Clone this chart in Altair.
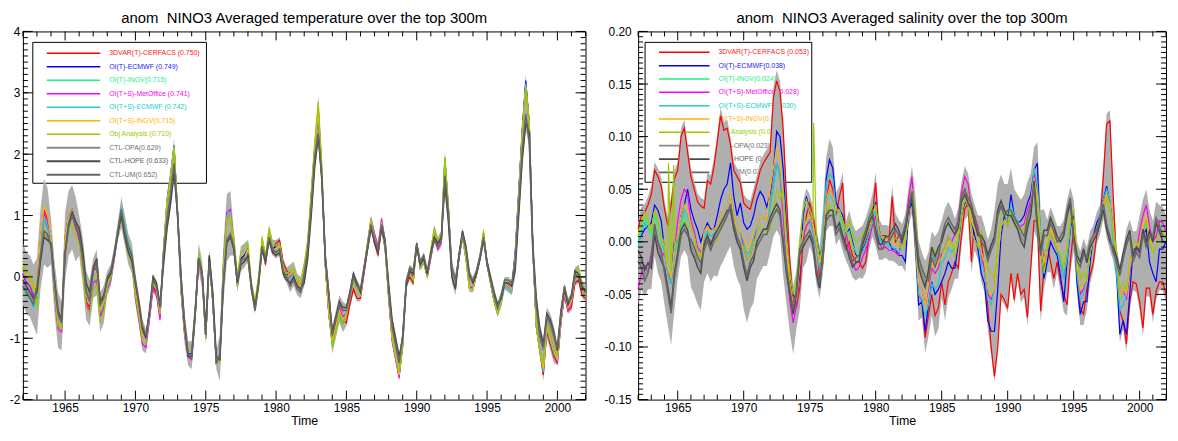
import altair as alt
import numpy as np
import pandas as pd

FONT = "Liberation Sans"

# ---------------- quarterly time axis (1962.00 ... 2002.00) ----------------
START_YEAR = 1962
N_Q = 161

# ---------------- TEMPERATURE (anomaly, deg C) ----------------
# consensus of the assimilation runs, quarterly
T_base = [
    0.05, -0.10, -0.15, -0.30,   # 1962
    -0.35, 0.45, 0.95, 0.80,     # 1963
    0.65, -0.20, -0.75, -0.80,   # 1964
    0.60, 0.95, 1.05, 0.85,      # 1965
    0.75, 0.30, -0.30, -0.40,    # 1966
    0.00, 0.05, -0.55, -0.40,    # 1967
    -0.15, 0.00, 0.35, 0.75,     # 1968
    1.05, 0.75, 0.45, 0.30,      # 1969
    -0.20, -0.55, -0.95, -1.00,  # 1970
    -0.60, -0.10, -0.20, -0.60,  # 1971
    0.40, 1.20, 1.60, 2.10,      # 1972
    1.00, -0.20, -0.90, -1.25,   # 1973
    -1.30, -0.60, 0.30, 0.00,    # 1974
    -1.00, 0.30, -0.40, -1.40,   # 1975
    -1.35, 0.10, 0.95, 1.00,     # 1976
    0.50, -0.15, 0.25, 0.30,     # 1977
    0.45, -0.20, -0.50, -0.10,   # 1978
    0.55, 0.25, 0.70, 0.45,      # 1979
    0.45, 0.50, 0.15, 0.00,      # 1980
    0.00, 0.05, -0.15, -0.20,    # 1981
    0.10, 0.50, 1.30, 2.10,      # 1982
    2.70, 1.70, 0.20, -0.60,     # 1983
    -1.05, -0.80, -0.55, -0.70,  # 1984
    -0.60, -0.30, -0.05, -0.20,  # 1985
    -0.30, 0.10, 0.50, 0.90,     # 1986
    0.60, 0.40, 0.85, 0.50,      # 1987
    -0.30, -1.00, -1.30, -1.60,  # 1988
    -1.10, -0.10, 0.05, -0.05,   # 1989
    0.55, 0.15, 0.25, 0.00,      # 1990
    0.35, 0.70, 0.50, 0.60,      # 1991
    1.90, 1.10, 0.00, -0.15,     # 1992
    0.30, 0.65, 0.30, -0.20,     # 1993
    -0.20, 0.05, 0.30, 0.70,     # 1994
    0.20, -0.10, -0.40, -0.60,   # 1995
    -0.40, -0.10, -0.15, -0.20,  # 1996
    0.30, 1.30, 2.30, 3.10,      # 1997
    2.50, 0.50, -0.80, -1.20,    # 1998
    -1.50, -0.80, -1.00, -1.20,  # 1999
    -1.35, -0.70, -0.25, -0.50,  # 2000
    -0.40, 0.00, 0.05, -0.20,    # 2001
    -0.30,                       # 2002
]
# control (no assimilation) runs, quarterly
T_ctl = [
    -0.10, -0.20, -0.30, -0.40,  # 1962
    -0.20, 0.30, 0.70, 0.65,     # 1963
    0.50, -0.10, -0.60, -0.75,   # 1964
    0.40, 0.85, 1.05, 0.90,      # 1965
    0.70, 0.35, -0.20, -0.35,    # 1966
    0.10, 0.25, -0.45, -0.35,    # 1967
    -0.05, 0.05, 0.35, 0.70,     # 1968
    1.05, 0.70, 0.45, 0.30,      # 1969
    -0.10, -0.45, -0.85, -1.00,  # 1970
    -0.60, -0.05, -0.15, -0.50,  # 1971
    0.30, 0.90, 1.30, 1.80,      # 1972
    1.00, -0.05, -0.80, -1.30,   # 1973
    -1.30, -0.60, 0.30, 0.05,    # 1974
    -0.90, 0.30, -0.30, -1.35,   # 1975
    -1.30, -0.10, 0.60, 0.70,    # 1976
    0.45, -0.10, 0.20, 0.25,     # 1977
    0.30, -0.20, -0.55, -0.15,   # 1978
    0.45, 0.25, 0.60, 0.40,      # 1979
    0.40, 0.45, 0.10, 0.00,      # 1980
    -0.10, 0.00, -0.15, -0.20,   # 1981
    0.00, 0.40, 1.10, 1.90,      # 1982
    2.30, 1.60, 0.30, -0.30,     # 1983
    -0.95, -0.70, -0.45, -0.55,  # 1984
    -0.50, -0.25, 0.05, -0.10,   # 1985
    -0.25, 0.10, 0.45, 0.80,     # 1986
    0.60, 0.45, 0.85, 0.60,      # 1987
    -0.20, -0.80, -1.10, -1.40,  # 1988
    -1.00, -0.15, 0.10, 0.05,    # 1989
    0.50, 0.20, 0.30, 0.05,      # 1990
    0.35, 0.60, 0.50, 0.60,      # 1991
    1.60, 1.00, 0.10, -0.10,     # 1992
    0.30, 0.70, 0.45, 0.00,      # 1993
    -0.10, 0.05, 0.30, 0.60,     # 1994
    0.20, -0.05, -0.30, -0.50,   # 1995
    -0.35, -0.10, -0.10, -0.15,  # 1996
    0.20, 1.10, 2.00, 2.60,      # 1997
    2.20, 0.40, -0.50, -1.00,    # 1998
    -1.20, -0.70, -0.80, -1.00,  # 1999
    -1.20, -0.60, -0.20, -0.45,  # 2000
    -0.35, 0.05, 0.00, -0.20,    # 2001
    -0.25,                       # 2002
]
# yearly departures of each run (1962 ... 2002)
T_off_red = [0.10, 0.15, -0.05, -0.05, -0.10, 0.10, 0.00, 0.05, 0.00, -0.05,
             0.05, 0.00, 0.05, 0.00, 0.00, 0.05, 0.00, -0.05, 0.10, 0.05,
             0.00, 0.00, 0.00, -0.15, -0.05, -0.05, 0.00, -0.05, 0.00, 0.00,
             0.00, 0.05, 0.00, 0.00, 0.00, 0.05, 0.00, -0.10, -0.05, -0.10,
             -0.05]
T_off_blue = [0.00, 0.00, 0.00, 0.05, 0.00, 0.00, 0.00, 0.00, 0.05, 0.00,
              0.00, 0.00, 0.05, 0.00, 0.00, 0.05, 0.00, 0.00, 0.05, 0.00,
              0.00, 0.00, -0.05, 0.00, 0.00, 0.00, 0.00, 0.00, 0.00, 0.00,
              0.00, 0.00, 0.00, 0.05, 0.00, 0.10, 0.00, 0.00, 0.00, 0.00,
              0.00]
T_off_spring = [0.05, 0.05, -0.05, 0.00, 0.00, -0.05, 0.05, 0.00, 0.00, 0.00,
                0.00, 0.00, 0.00, 0.00, 0.05, 0.00, 0.00, 0.00, 0.00, 0.00,
                0.05, 0.05, 0.00, 0.00, 0.00, 0.00, 0.00, 0.00, 0.00, 0.00,
                0.05, 0.00, 0.00, 0.00, 0.00, 0.00, 0.00, 0.00, 0.00, 0.00,
                0.00]
T_off_mag = [0.00, 0.10, -0.10, 0.00, -0.15, -0.10, -0.05, 0.00, -0.15, -0.10,
             0.00, -0.05, -0.05, 0.00, 0.10, 0.00, 0.00, 0.00, -0.05, 0.00,
             0.00, 0.00, 0.05, 0.00, 0.05, 0.10, -0.05, 0.05, 0.00, -0.05,
             0.00, 0.05, 0.00, 0.00, 0.00, 0.00, 0.00, 0.00, -0.05, 0.00,
             0.00]
T_off_cyan = [-0.20, 0.00, 0.00, 0.00, 0.00, 0.00, 0.00, 0.10, 0.00, 0.00,
              0.05, 0.00, 0.00, 0.00, 0.05, 0.00, 0.00, 0.00, 0.00, 0.00,
              0.00, 0.00, -0.05, 0.00, 0.00, 0.00, 0.00, 0.00, 0.00, 0.00,
              0.05, 0.00, 0.00, 0.05, -0.05, 0.05, 0.00, -0.05, 0.00, 0.00,
              0.00]
T_off_orange = [0.10, 0.20, 0.00, 0.05, 0.00, 0.00, 0.00, 0.00, 0.00, 0.00,
                0.00, 0.00, 0.00, 0.00, 0.00, 0.00, 0.00, 0.00, 0.00, 0.05,
                0.00, 0.00, 0.00, 0.00, 0.00, 0.00, 0.00, 0.00, 0.00, 0.00,
                0.00, 0.00, 0.00, 0.00, 0.00, 0.00, 0.00, 0.00, 0.00, 0.00,
                0.00]
T_off_obj = [0.20, -0.15, -0.05, -0.20, -0.20, -0.20, 0.00, -0.10, -0.10, 0.00,
             0.00, 0.05, 0.10, 0.05, -0.05, 0.15, 0.10, 0.10, 0.05, 0.10,
             0.10, 0.15, -0.10, 0.00, 0.05, 0.05, 0.05, 0.00, 0.00, 0.10,
             0.05, 0.05, 0.05, 0.00, 0.05, 0.00, 0.00, 0.10, 0.10, 0.10,
             0.00]
T_off_hope = [0.05, -0.05, 0.05, 0.00, 0.10, 0.05, 0.00, -0.05, 0.00, 0.05,
              -0.10, 0.00, 0.00, 0.05, -0.05, 0.00, 0.05, 0.00, -0.05, 0.00,
              -0.10, 0.00, 0.05, 0.00, 0.00, -0.05, 0.10, 0.00, 0.00, 0.05,
              -0.10, 0.05, 0.00, 0.05, 0.00, -0.10, 0.15, 0.10, 0.00, 0.05,
              0.00]
T_off_um = [-0.05, 0.05, 0.00, -0.05, -0.05, 0.00, 0.05, 0.05, 0.05, 0.00,
            0.05, 0.05, 0.00, -0.05, 0.00, 0.05, 0.00, 0.05, 0.00, -0.05,
            0.05, 0.05, 0.00, -0.05, 0.05, 0.00, 0.00, 0.05, 0.05, 0.00,
            0.05, 0.00, 0.05, 0.00, 0.05, 0.05, 0.05, 0.05, 0.05, 0.00,
            0.05]
# extra width of the grey spread beyond the runs, yearly
T_pad = [0.30, 0.45, 0.30, 0.40, 0.20, 0.15, 0.10, 0.15, 0.10, 0.05,
         0.10, 0.15, 0.15, 0.10, 0.30, 0.10, 0.05, 0.05, 0.05, 0.10,
         0.05, 0.10, 0.10, 0.05, 0.05, 0.05, 0.05, 0.05, 0.05, 0.05,
         0.10, 0.05, 0.05, 0.05, 0.05, 0.10, 0.10, 0.10, 0.05, 0.05,
         0.05]

# ---------------- SALINITY (anomaly, psu) ----------------
S_red = [
    0.012, 0.025, 0.028, 0.035,    # 1962
    0.045, 0.068, 0.062, 0.053,    # 1963
    0.031, 0.015, 0.035, 0.060,    # 1964
    0.068, 0.100, 0.108, 0.085,    # 1965
    0.062, 0.050, 0.038, 0.034,    # 1966
    0.032, 0.058, 0.055, 0.072,    # 1967
    0.095, 0.120, 0.106, 0.108,    # 1968
    0.092, 0.068, 0.062, 0.056,    # 1969
    0.037, 0.033, 0.031, 0.043,    # 1970
    0.055, 0.068, 0.075, 0.080,    # 1971
    0.085, 0.137, 0.153, 0.143,    # 1972
    0.105, 0.040, -0.019, -0.057,  # 1973
    -0.062, -0.044, 0.000, 0.025,  # 1974
    0.037, 0.025, 0.005, -0.035,   # 1975
    -0.020, 0.037, 0.059, 0.050,   # 1976
    0.025, 0.043, 0.056, -0.007,   # 1977
    0.000, -0.013, -0.019, -0.019, # 1978
    -0.025, -0.019, 0.006, 0.025,  # 1979
    0.056, 0.006, 0.006, 0.006,    # 1980
    0.000, 0.043, 0.000, 0.006,    # 1981
    0.006, 0.013, 0.025, 0.050,    # 1982
    -0.003, -0.050, -0.056, -0.091, # 1983
    -0.070, -0.050, -0.070, -0.063, # 1984
    -0.038, -0.060, -0.038, -0.030, # 1985
    -0.019, -0.025, 0.006, 0.031,  # 1986
    0.037, -0.019, 0.025, 0.012,   # 1987
    0.000, -0.025, -0.063, -0.100, # 1988
    -0.128, -0.100, -0.050, -0.055, # 1989
    -0.063, -0.030, -0.055, -0.030, # 1990
    -0.050, -0.045, -0.072, -0.025, # 1991
    0.020, 0.020, -0.066, -0.025,  # 1992
    -0.003, -0.019, -0.035, -0.019, # 1993
    -0.038, -0.050, -0.060, -0.019, # 1994
    0.012, -0.019, -0.063, -0.069, # 1995
    -0.044, -0.032, -0.019, 0.006, # 1996
    0.018, 0.062, 0.112, 0.115,    # 1997
    0.043, -0.019, -0.066, -0.075, # 1998
    -0.097, -0.057, -0.038, -0.040, # 1999
    -0.057, -0.082, -0.044, -0.044, # 2000
    -0.069, -0.047, -0.038, -0.038, # 2001
    -0.050,                        # 2002
]
S_blue = [
    0.000, 0.006, 0.012, 0.015,    # 1962
    0.018, 0.035, 0.030, 0.020,    # 1963
    -0.007, -0.030, -0.035, 0.000, # 1964
    0.000, 0.025, 0.035, 0.050,    # 1965
    0.031, 0.020, 0.012, 0.000,    # 1966
    0.010, 0.018, 0.012, 0.012,    # 1967
    0.025, 0.040, 0.050, 0.055,    # 1968
    0.075, 0.043, 0.025, 0.037,    # 1969
    0.018, 0.012, 0.015, 0.025,    # 1970
    0.040, 0.048, 0.043, 0.033,    # 1971
    0.045, 0.068, 0.105, 0.100,    # 1972
    0.068, 0.012, -0.035, -0.050,  # 1973
    -0.057, -0.030, 0.025, 0.043,  # 1974
    0.030, 0.010, 0.006, -0.013,   # 1975
    -0.005, 0.060, 0.078, 0.070,   # 1976
    0.037, 0.031, 0.025, 0.006,    # 1977
    0.012, 0.000, -0.013, -0.013,  # 1978
    -0.007, 0.000, 0.012, 0.030,   # 1979
    0.037, 0.012, 0.000, 0.000,    # 1980
    0.000, -0.007, -0.007, -0.013, # 1981
    -0.013, -0.019, 0.030, 0.037,  # 1982
    0.006, -0.060, -0.057, -0.085, # 1983
    -0.060, -0.038, -0.050, -0.045, # 1984
    -0.038, -0.030, -0.019, -0.025, # 1985
    -0.025, -0.003, 0.025, 0.037,  # 1986
    0.037, 0.020, 0.006, -0.007,   # 1987
    -0.030, -0.040, -0.075, -0.085, # 1988
    -0.085, -0.045, 0.006, 0.025,  # 1989
    0.018, 0.045, 0.025, 0.018,    # 1990
    0.020, 0.025, 0.037, 0.045,    # 1991
    0.068, 0.075, -0.003, -0.035,  # 1992
    -0.019, 0.000, -0.007, -0.013, # 1993
    -0.032, -0.057, -0.019, 0.012, # 1994
    0.025, -0.038, -0.069, -0.057, # 1995
    -0.057, -0.019, 0.006, 0.018,  # 1996
    0.025, 0.040, 0.053, 0.037,    # 1997
    0.010, -0.030, -0.088, -0.075, # 1998
    -0.088, -0.050, -0.007, -0.007, # 1999
    -0.007, 0.006, 0.012, -0.019,  # 2000
    -0.030, -0.038, -0.007, -0.007, # 2001
    0.000,                         # 2002
]
# middle of the pack of the other analyses
S_mid = [
    -0.005, 0.010, 0.018, 0.012,   # 1962
    0.010, 0.030, 0.020, 0.005,    # 1963
    -0.010, -0.030, -0.040, -0.010, # 1964
    0.000, 0.020, 0.030, 0.025,    # 1965
    0.015, 0.005, -0.010, -0.015,  # 1966
    0.005, 0.010, 0.005, 0.008,    # 1967
    0.012, 0.025, 0.030, 0.035,    # 1968
    0.045, 0.025, 0.012, 0.010,    # 1969
    0.000, -0.012, -0.008, 0.005,  # 1970
    0.015, 0.025, 0.022, 0.020,    # 1971
    0.030, 0.050, 0.070, 0.060,    # 1972
    0.035, -0.010, -0.045, -0.065, # 1973
    -0.055, -0.020, 0.010, 0.020,  # 1974
    0.020, 0.010, -0.005, -0.025,  # 1975
    -0.010, 0.035, 0.045, 0.040,   # 1976
    0.025, 0.025, 0.015, 0.005,    # 1977
    0.005, -0.008, -0.015, -0.012, # 1978
    -0.005, 0.003, 0.012, 0.025,   # 1979
    0.030, 0.005, -0.002, 0.000,   # 1980
    0.000, 0.000, -0.002, -0.005,  # 1981
    -0.005, 0.000, 0.030, 0.050,   # 1982
    0.010, -0.040, -0.045, -0.060, # 1983
    -0.045, -0.025, -0.030, -0.025, # 1984
    -0.015, -0.010, 0.000, -0.005, # 1985
    -0.005, 0.010, 0.035, 0.050,   # 1986
    0.045, 0.020, 0.012, 0.005,    # 1987
    -0.010, -0.020, -0.045, -0.050, # 1988
    -0.045, -0.015, 0.015, 0.020,  # 1989
    0.015, 0.030, 0.020, 0.015,    # 1990
    0.010, 0.012, 0.025, 0.035,    # 1991
    0.060, 0.045, 0.000, -0.020,   # 1992
    -0.005, 0.008, 0.000, -0.008,  # 1993
    -0.015, -0.030, -0.010, 0.020, # 1994
    0.020, -0.020, -0.045, -0.040, # 1995
    -0.035, -0.010, 0.005, 0.012,  # 1996
    0.020, 0.035, 0.045, 0.035,    # 1997
    0.005, -0.020, -0.055, -0.050, # 1998
    -0.050, -0.025, -0.005, -0.005, # 1999
    -0.005, 0.010, 0.020, 0.000,   # 2000
    -0.010, -0.005, 0.010, 0.008,  # 2001
    0.005,                         # 2002
]
S_ctl = [
    -0.013, -0.020, -0.032, -0.025, # 1962
    -0.020, 0.012, -0.005, -0.013, # 1963
    -0.025, -0.044, -0.063, -0.030, # 1964
    -0.015, 0.006, 0.012, 0.006,   # 1965
    -0.003, -0.010, -0.019, -0.025, # 1966
    -0.003, 0.006, -0.003, 0.006,  # 1967
    0.006, 0.012, 0.018, 0.025,    # 1968
    0.031, 0.012, 0.000, -0.007,   # 1969
    -0.019, -0.032, -0.019, -0.013, # 1970
    0.000, 0.006, 0.012, 0.012,    # 1971
    0.018, 0.025, 0.031, 0.025,    # 1972
    -0.003, -0.030, -0.050, -0.069, # 1973
    -0.045, -0.007, 0.000, 0.006,  # 1974
    0.006, -0.003, -0.030, -0.044, # 1975
    -0.015, 0.020, 0.025, 0.025,   # 1976
    0.012, 0.018, 0.006, -0.003,   # 1977
    -0.010, -0.019, -0.015, -0.013, # 1978
    -0.003, 0.006, 0.018, 0.025,   # 1979
    0.006, -0.007, -0.007, 0.000,  # 1980
    0.000, 0.006, 0.012, 0.006,    # 1981
    0.000, 0.012, 0.030, 0.043,    # 1982
    0.012, -0.019, -0.030, -0.038, # 1983
    -0.032, -0.010, -0.019, -0.010, # 1984
    0.000, 0.012, 0.018, 0.012,    # 1985
    0.012, 0.018, 0.043, 0.050,    # 1986
    0.037, 0.031, 0.018, 0.006,    # 1987
    0.006, 0.000, -0.013, -0.003,  # 1988
    0.000, 0.025, 0.034, 0.025,    # 1989
    0.025, 0.025, 0.018, 0.012,    # 1990
    0.006, 0.000, 0.018, 0.030,    # 1991
    0.053, 0.012, -0.013, 0.006,   # 1992
    0.006, 0.018, 0.010, 0.000,    # 1993
    0.000, 0.006, 0.025, 0.037,    # 1994
    0.006, -0.013, -0.019, -0.007, # 1995
    -0.015, 0.000, 0.006, 0.012,   # 1996
    0.018, 0.031, 0.012, 0.000,    # 1997
    -0.010, -0.019, -0.032, -0.016, # 1998
    -0.003, 0.006, -0.019, -0.010, # 1999
    -0.010, 0.012, 0.000, 0.010,   # 2000
    0.000, 0.018, 0.010, 0.000,    # 2001
    0.000,                         # 2002
]
S_off_mag = [-0.040, -0.020, 0.000, 0.020, 0.005, -0.005, 0.000, 0.000, -0.005, 0.000,
             0.005, -0.012, -0.005, 0.000, 0.005, 0.005, -0.012, -0.010, -0.005, -0.008,
             0.012, 0.000, 0.000, 0.005, 0.012, 0.010, -0.005, 0.000, 0.000, 0.005,
             0.005, 0.000, -0.005, -0.005, 0.000, 0.000, 0.005, -0.005, 0.015, 0.010,
             0.005]
S_off_cyan = [0.000, 0.000, 0.000, 0.000, 0.000, 0.000, 0.000, 0.000, 0.000, 0.000,
              0.005, 0.000, 0.000, 0.000, 0.020, 0.005, 0.000, -0.005, 0.000, -0.005,
              0.000, -0.010, -0.015, -0.005, 0.000, 0.000, -0.010, 0.000, 0.005, 0.000,
              0.010, 0.000, -0.005, -0.010, 0.000, 0.005, -0.010, 0.000, 0.000, 0.000,
              0.000]
S_off_orange = [0.010, 0.000, 0.005, 0.005, 0.000, 0.005, 0.000, 0.000, 0.005, 0.000,
                0.020, 0.005, 0.000, 0.005, 0.005, 0.005, 0.000, 0.000, 0.005, 0.000,
                0.000, 0.000, 0.005, 0.000, 0.000, 0.000, 0.000, 0.000, 0.000, 0.000,
                0.000, 0.005, 0.005, 0.000, 0.000, 0.000, 0.005, 0.000, 0.005, 0.000,
                0.000]
S_off_spring = [0.005, -0.005, 0.000, -0.005, 0.000, 0.000, 0.000, 0.000, -0.005, 0.000,
                0.000, 0.000, 0.000, 0.000, 0.000, 0.000, 0.005, 0.005, 0.000, 0.000,
                0.000, 0.000, 0.000, 0.000, 0.000, 0.000, 0.000, 0.000, 0.000, 0.000,
                0.000, 0.000, 0.000, 0.000, 0.000, 0.000, 0.000, 0.000, 0.000, 0.000,
                0.000]
S_off_obj = [0.010, 0.000, 0.010, -0.010, 0.000, -0.010, -0.010, -0.010, -0.005, -0.010,
             -0.020, 0.015, 0.020, 0.010, -0.010, 0.005, 0.015, 0.010, 0.005, 0.005,
             0.000, 0.020, 0.020, 0.005, -0.010, -0.010, 0.020, 0.010, 0.000, 0.000,
             -0.010, 0.000, 0.005, 0.010, 0.000, -0.005, 0.010, 0.005, 0.000, 0.000,
             0.000]
S_off_hope = [0.005, -0.005, 0.000, 0.005, -0.005, 0.000, 0.005, 0.000, -0.005, 0.000,
              0.005, 0.000, -0.005, 0.000, 0.005, 0.000, -0.005, 0.000, 0.005, 0.005,
              0.000, -0.005, 0.005, 0.000, -0.005, 0.000, 0.000, 0.005, 0.000, -0.005,
              0.005, 0.005, 0.000, 0.000, -0.005, 0.000, 0.005, 0.005, 0.000, 0.000,
              0.000]
S_off_um = [-0.005, 0.005, -0.005, 0.000, 0.005, -0.005, 0.000, 0.005, 0.000, -0.005,
            0.000, 0.005, 0.000, 0.005, 0.000, -0.005, 0.000, 0.005, 0.000, 0.000,
            0.005, 0.005, -0.005, 0.005, 0.000, 0.005, -0.005, 0.000, 0.005, 0.005,
            0.000, 0.000, 0.005, -0.005, 0.000, 0.005, 0.000, 0.000, -0.005, 0.005,
            0.005]
# isolated one-month spikes of the objective analysis
S_obj_spike_t = [1964.30, 1964.70, 1975.30]
S_obj_spike_v = [0.075, 0.073, 0.113]
S_pad_hi = [0.008, 0.008, 0.008, 0.008, 0.008, 0.008, 0.008, 0.008, 0.008, 0.008,
            0.010, 0.008, 0.008, 0.008, 0.020, 0.010, 0.010, 0.010, 0.010, 0.010,
            0.010, 0.015, 0.015, 0.015, 0.010, 0.010, 0.015, 0.025, 0.025, 0.020,
            0.020, 0.010, 0.010, 0.010, 0.010, 0.010, 0.005, 0.010, 0.015, 0.015,
            0.015]
S_pad_lo = [0.015, 0.020, 0.030, 0.020, 0.035, 0.030, 0.035, 0.035, 0.040, 0.030,
            0.020, 0.030, 0.020, 0.010, 0.010, 0.010, 0.010, 0.010, 0.010, 0.010,
            0.010, 0.015, 0.020, 0.015, 0.010, 0.010, 0.008, 0.005, 0.005, 0.008,
            0.010, 0.010, 0.010, 0.010, 0.008, 0.008, 0.008, 0.008, 0.008, 0.008,
            0.008]

# ---------------- series names, colours, legend text ----------------
NAMES = ["3DVAR(T)-CERFACS", "OI(T)-ECMWF", "OI(T)-INGV", "OI(T+S)-MetOffice",
         "OI(T+S)-ECMWF", "OI(T+S)-INGV", "Obj Analysis", "CTL-OPA", "CTL-HOPE", "CTL-UM"]
COLORS = ["#ff0000", "#0000ff", "#22ee88", "#ff00ee", "#22cccc", "#ffb400",
          "#99cc00", "#8a8a8a", "#4a4a4a", "#666666"]
TEXT_COLORS = ["#ff2020", "#2020ff", "#22ee88", "#ff00ee", "#22cccc", "#ffb400",
               "#99cc00", "#707070", "#606060", "#707070"]
WIDTHS = [1.2, 1.2, 1.2, 1.2, 1.2, 1.2, 1.2, 1.5, 1.5, 1.5]
T_LABELS = ["3DVAR(T)-CERFACS (0.750)", "OI(T)-ECMWF (0.749)", "OI(T)-INGV(0.715)",
            "OI(T+S)-MetOffice (0.741)", "OI(T+S)-ECMWF (0.742)", "OI(T+S)-INGV(0.715)",
            "Obj Analysis (0.710)", "CTL-OPA(0.629)", "CTL-HOPE (0.633)", "CTL-UM(0.652)"]
S_LABELS = ["3DVAR(T)-CERFACS (0.053)", "OI(T)-ECMWF(0.038)", "OI(T)-INGV(0.024)",
            "OI(T+S)-MetOffice (0.028)", "OI(T+S)-ECMWF (0.030)", "OI(T+S)-INGV(0.024)",
            "Obj Analysis (0.020)", "CTL-OPA(0.023)", "CTL-HOPE (0.021)", "CTL-UM(0.021)"]

# ---------------- assemble ----------------
t = np.array([START_YEAR + 0.25 * k for k in range(N_Q)])
yi = np.floor(t - START_YEAR + 1e-9).astype(int)


def add(base, off):
    return np.array(base, dtype=float) + np.array(off, dtype=float)[yi]


T_vals = [add(T_base, T_off_red), add(T_base, T_off_blue), add(T_base, T_off_spring),
          add(T_base, T_off_mag), add(T_base, T_off_cyan), add(T_base, T_off_orange),
          add(T_base, T_off_obj), np.array(T_ctl, dtype=float), add(T_ctl, T_off_hope),
          add(T_ctl, T_off_um)]
S_vals = [np.array(S_red, dtype=float), np.array(S_blue, dtype=float), add(S_mid, S_off_spring),
          add(S_mid, S_off_mag), add(S_mid, S_off_cyan), add(S_mid, S_off_orange),
          add(S_mid, S_off_obj), np.array(S_ctl, dtype=float), add(S_ctl, S_off_hope),
          add(S_ctl, S_off_um)]

T_stack = np.vstack(T_vals)
T_band = pd.DataFrame({"t": t,
                       "lo": T_stack.min(axis=0) - np.array(T_pad)[yi],
                       "hi": T_stack.max(axis=0) + np.array(T_pad)[yi]})
S_stack = np.vstack(S_vals)
S_band = pd.DataFrame({"t": t,
                       "lo": S_stack.min(axis=0) - np.array(S_pad_lo)[yi],
                       "hi": S_stack.max(axis=0) + np.array(S_pad_hi)[yi]})

T_dfs = [pd.DataFrame({"t": t, "v": v}) for v in T_vals]
S_dfs = [pd.DataFrame({"t": t, "v": v}) for v in S_vals]
S_dfs[6] = pd.concat([S_dfs[6], pd.DataFrame({"t": S_obj_spike_t, "v": S_obj_spike_v})]
                     ).sort_values("t").reset_index(drop=True)

DUMMY = pd.DataFrame({"a": [0]})
YEARS_ALL = pd.DataFrame({"yr": list(range(1962, 2003))})
YEARS_ALL["major"] = YEARS_ALL["yr"] % 5 == 0


def panel(title, dfs, band, labels, ydom, ymajor, yminor, label_expr, W, H,
          y_labpad, y_extent, leg_box, leg_line, leg_text_x, leg_y0, leg_dy):
    xsc = alt.Scale(domain=[1962, 2002], nice=False, zero=False)
    ysc = alt.Scale(domain=ydom, nice=False, zero=False)
    xax = alt.Axis(values=[1965, 1970, 1975, 1980, 1985, 1990, 1995, 2000], format="d",
                   ticks=False, domain=False, grid=False, labelFontSize=12, labelFont=FONT,
                   labelColor="black", labelPadding=3, title="Time", titleFont=FONT,
                   titleFontSize=12.5, titleFontWeight="normal", titleColor="black",
                   titlePadding=1)
    yax = alt.Axis(values=ymajor, labelExpr=label_expr, ticks=False, domain=False,
                   grid=False, labelFontSize=12, labelFont=FONT, labelColor="black",
                   labelPadding=y_labpad, title=None, minExtent=y_extent, maxExtent=y_extent)
    X = lambda f: alt.X(f, type="quantitative", scale=xsc, axis=xax)
    Y = lambda f: alt.Y(f, type="quantitative", scale=ysc, axis=yax)

    layers = []
    # legend (drawn first: curves pass over it)
    layers.append(alt.Chart(DUMMY).mark_rect(filled=False, stroke="black", strokeWidth=1).encode(
        x=alt.value(leg_box[0]), x2=alt.value(leg_box[1]),
        y=alt.value(leg_box[2]), y2=alt.value(leg_box[3])))
    for i, lab in enumerate(labels):
        yy = leg_y0 + leg_dy * i
        layers.append(alt.Chart(DUMMY).mark_rule(color=COLORS[i], strokeWidth=WIDTHS[i] + 0.3).encode(
            x=alt.value(leg_line[0]), x2=alt.value(leg_line[1]), y=alt.value(yy)))
        layers.append(alt.Chart(DUMMY).mark_text(text=lab, align="left", baseline="middle",
                                                 fontSize=7, font=FONT, color=TEXT_COLORS[i]).encode(
            x=alt.value(leg_text_x), y=alt.value(yy)))
    # spread band
    layers.append(alt.Chart(band).mark_area(color="#afafaf", opacity=1).encode(
        x=X("t"), y=Y("lo"), y2="hi"))
    # curves
    for i, df in enumerate(dfs):
        layers.append(alt.Chart(df).mark_line(color=COLORS[i], strokeWidth=WIDTHS[i],
                                              strokeJoin="miter").encode(x=X("t"), y=Y("v")))
    # inward ticks on all four sides
    for major, L in [(True, 9), (False, 5)]:
        ydf = YEARS_ALL[YEARS_ALL["major"] == major]
        layers.append(alt.Chart(ydf).mark_rule(color="black", strokeWidth=1).encode(
            x=X("yr"), y=alt.value(H), y2=alt.value(H - L)))
        layers.append(alt.Chart(ydf).mark_rule(color="black", strokeWidth=1).encode(
            x=X("yr"), y=alt.value(0), y2=alt.value(L)))
    for vals, L in [(ymajor, 10), (yminor, 5)]:
        vdf = pd.DataFrame({"yv": vals})
        layers.append(alt.Chart(vdf).mark_rule(color="black", strokeWidth=1).encode(
            y=Y("yv"), x=alt.value(0), x2=alt.value(L)))
        layers.append(alt.Chart(vdf).mark_rule(color="black", strokeWidth=1).encode(
            y=Y("yv"), x=alt.value(W), x2=alt.value(W - L)))

    return alt.layer(*layers).properties(
        width=W, height=H,
        title=alt.TitleParams(text=title, fontSize=15, font=FONT, fontWeight="normal",
                              color="black", anchor="middle", offset=0))


T_major = [-2, -1, 0, 1, 2, 3, 4]
T_minor = [round(-2 + 0.1 * i, 2) for i in range(61)]
S_major = [-0.15, -0.10, -0.05, 0.00, 0.05, 0.10, 0.15, 0.20]
S_minor = [round(-0.15 + 0.005 * i, 3) for i in range(71)]

H = 371
left = panel("anom\u00a0 NINO3 Averaged temperature over the top 300m", T_dfs, T_band, T_LABELS,
             [-2, 4], T_major, T_minor, "replace(format(datum.value,'d'),'\u2212','-')",
             567, H, 3, 14, (10, 185, 11, 153), (24, 78), 87, 22, 13.6)
right = panel("anom\u00a0 NINO3 Averaged salinity over the top 300m", S_dfs, S_band, S_LABELS,
              [-0.15, 0.20], S_major, S_minor, "replace(format(datum.value,'.2f'),'\u2212','-')",
              532, H, 7, 36, (7, 175, 11, 152), (21, 72), 81, 21, 13.45)

chart = alt.hconcat(left, right, spacing=12).properties(
    padding={"left": 0, "top": 0, "right": 0, "bottom": 0}
).configure_view(stroke="black", strokeWidth=1)

chart.save("out.html", embed_options={"renderer": "svg", "actions": False})
